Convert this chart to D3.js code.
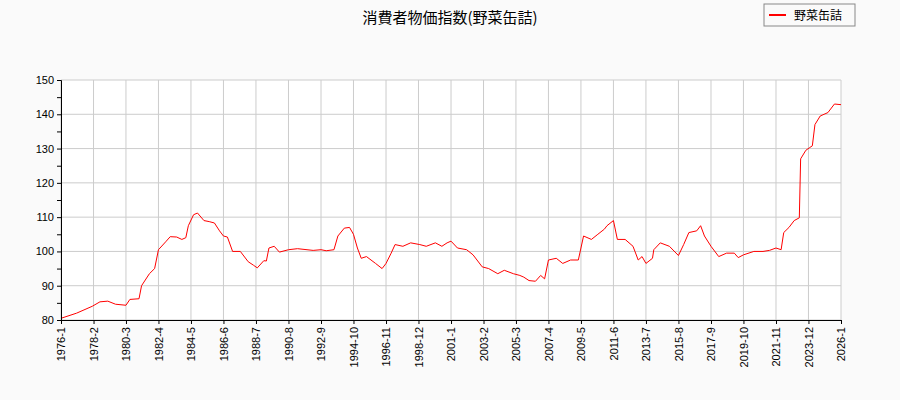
<!DOCTYPE html>
<html><head><meta charset="utf-8">
<script src="https://cdn.jsdelivr.net/npm/d3@7"></script>
<style>body{margin:0;background:#fafafa;font-family:"Noto Sans CJK JP","DejaVu Sans",sans-serif}</style>
</head><body><div id="chart"></div>
<script>
const months = ["1976-1","1977-1","1978-1","1978-7","1979-1","1979-7","1980-3","1980-6","1981-1","1981-3","1981-9","1982-1","1982-4","1982-10","1983-1","1983-6","1983-10","1984-1","1984-3","1984-7","1984-10","1985-3","1985-7","1985-11","1986-3","1986-6","1986-9","1987-1","1987-7","1988-1","1988-5","1988-8","1989-1","1989-3","1989-5","1989-9","1990-1","1990-8","1991-3","1992-3","1992-9","1993-1","1993-7","1993-10","1994-3","1994-7","1994-10","1995-1","1995-4","1995-8","1996-3","1996-8","1996-11","1997-3","1997-6","1997-12","1998-6","1999-1","1999-6","2000-1","2000-6","2000-10","2001-1","2001-6","2002-1","2002-6","2003-1","2003-6","2004-1","2004-6","2005-1","2005-6","2005-9","2006-1","2006-6","2006-10","2007-1","2007-4","2007-10","2008-3","2008-9","2009-3","2009-5","2009-7","2010-1","2010-6","2010-11","2011-1","2011-6","2011-9","2012-3","2012-9","2013-1","2013-4","2013-7","2013-12","2014-1","2014-6","2015-1","2015-8","2015-12","2016-4","2016-10","2017-1","2017-4","2017-9","2018-3","2018-9","2019-3","2019-6","2019-10","2020-6","2021-1","2021-6","2021-11","2022-3","2022-5","2022-9","2023-1","2023-5","2023-6","2023-10","2024-1","2024-3","2024-5","2024-9","2025-3","2025-8","2026-1"];
const values = [80.5,82,84,85.3,85.5,84.6,84.3,86,86.2,90,93.5,95,100.5,103,104.3,104.2,103.5,104,107.5,110.7,111.2,109,108.7,108.3,106,104.5,104.2,100,100,97,96,95.2,97.3,97.2,101,101.5,99.8,100.5,100.8,100.3,100.5,100.2,100.5,104.5,106.8,107,105,101,98,98.5,96.5,95,96.5,99.5,102,101.5,102.5,102,101.5,102.5,101.5,102.5,103,101,100.5,99,95.5,95,93.5,94.5,93.5,93,92.5,91.5,91.3,93,92,97.5,98,96.5,97.5,97.5,101,104.5,103.5,105,106.5,107.5,109,103.5,103.5,101.5,97.5,98.5,96.5,98,100.5,102.5,101.5,98.8,102,105.5,106,107.5,104.5,101.5,98.5,99.5,99.5,98.2,99,100,100,100.3,101,100.5,105.5,107,109,109.8,127,129.5,130.3,130.8,137,139.5,140.5,143,142.8];
const xTicks = ["1976-1","1978-2","1980-3","1982-4","1984-5","1986-6","1988-7","1990-8","1992-9","1994-10","1996-11","1998-12","2001-1","2003-2","2005-3","2007-4","2009-5","2011-6","2013-7","2015-8","2017-9","2019-10","2021-11","2023-12","2026-1"];
const yTicks = [80,90,100,110,120,130,140,150];
const title = "消費者物価指数(野菜缶詰)";
const seriesName = "野菜缶詰";

const W = 900, H = 400, m = {l: 61, r: 59, t: 80, b: 80};
const parse = d3.timeParse("%Y-%m");
const data = months.map((d, i) => [parse(d), values[i]]);

const svg = d3.select("#chart").append("svg").attr("width", W).attr("height", H)
  .style("font-family", '"Noto Sans CJK JP","DejaVu Sans",sans-serif');

const x = d3.scaleTime().domain([parse("1976-1"), parse("2026-1")]).range([m.l, W - m.r]);
const y = d3.scaleLinear().domain([80, 150]).range([H - m.b, m.t]);

svg.append("rect").attr("x", m.l).attr("y", m.t).attr("width", W - m.l - m.r).attr("height", H - m.t - m.b).attr("fill", "#fff");

const g = svg.append("g");
yTicks.forEach(v => g.append("line").attr("x1", m.l).attr("x2", W - m.r).attr("y1", y(v)).attr("y2", y(v)).attr("stroke", "#ccc"));
xTicks.forEach(t => g.append("line").attr("x1", x(parse(t))).attr("x2", x(parse(t))).attr("y1", m.t).attr("y2", H - m.b).attr("stroke", "#ccc"));

svg.append("path").datum(data)
  .attr("fill", "none").attr("stroke", "red").attr("stroke-width", 1)
  .attr("d", d3.line().x(d => x(d[0])).y(d => y(d[1])));

const ya = svg.append("g").attr("transform", `translate(${m.l},0)`)
  .call(d3.axisLeft(y).tickValues(d3.range(80, 151, 5)).tickSize(4)
    .tickFormat(d => d % 10 === 0 ? d : ""));
ya.selectAll("text").style("font-size", "11px").attr("fill", "#000");

const xa = svg.append("g").attr("transform", `translate(0,${H - m.b})`)
  .call(d3.axisBottom(x).tickValues(xTicks.map(parse)).tickSize(4)
    .tickFormat((d, i) => xTicks[i]));
xa.selectAll("text").style("font-size", "11px").attr("fill", "#000")
  .attr("transform", "rotate(-90)").attr("text-anchor", "end")
  .attr("x", -7).attr("y", 0).attr("dy", "0.35em");
svg.selectAll(".domain").attr("stroke", "#000");

svg.append("text").attr("x", W / 2).attr("y", 23).attr("text-anchor", "middle")
  .style("font-size", "15px").text(title);

const lg = svg.append("g").attr("transform", "translate(764,4)");
lg.append("rect").attr("width", 91).attr("height", 22).attr("fill", "#fafafa").attr("stroke", "#888");
lg.append("line").attr("x1", 5).attr("x2", 22).attr("y1", 11).attr("y2", 11).attr("stroke", "red").attr("stroke-width", 2);
lg.append("text").attr("x", 30).attr("y", 15.5).style("font-size", "12px").text(seriesName);
</script></body></html>
